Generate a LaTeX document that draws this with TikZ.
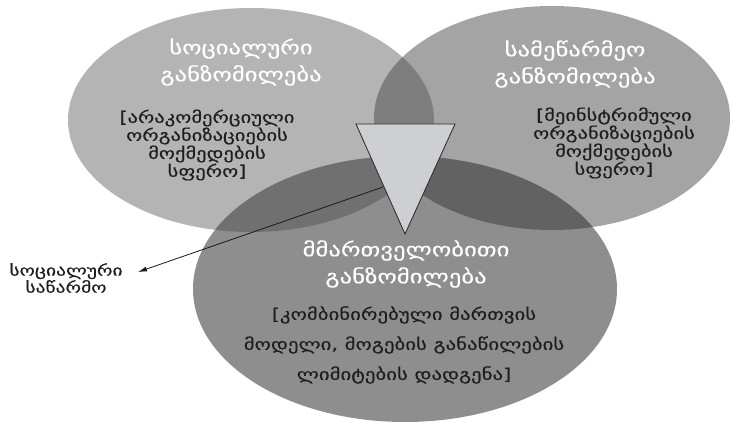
\documentclass[tikz,border=0pt]{standalone}
\usepackage{fontspec}
\usetikzlibrary{arrows.meta}
\newfontfamily\geo{DejaVu Sans}[FakeStretch=1.3,FakeBold=0.5]
\newfontfamily\geot{DejaVu Sans}[FakeStretch=1.3,FakeBold=0.3]
\definecolor{cL}{RGB}{180,180,180}
\definecolor{cR}{RGB}{164,164,164}
\definecolor{cB}{RGB}{142,142,142}
\definecolor{cLR}{RGB}{126,126,126}
\definecolor{cLB}{RGB}{112,112,112}
\definecolor{cRB}{RGB}{98,98,98}
\definecolor{cLRB}{RGB}{85,85,85}
\definecolor{cTri}{RGB}{205,207,210}
\definecolor{cTxt}{RGB}{30,30,30}
\tikzset{
  titletext/.style={text=white, font=\geot\fontsize{19}{27}\selectfont, align=center, inner sep=0pt},
  bodytext/.style={text=cTxt, font=\geo\fontsize{15.8}{18}\selectfont, align=center, inner sep=0pt},
  bigbody/.style={text=cTxt, font=\geo\fontsize{16}{30}\selectfont, align=center, inner sep=0pt},
  labeltext/.style={text=cTxt, font=\geo\fontsize{15}{17}\selectfont, align=center, inner sep=0pt},
  tri/.style={fill=cTri, draw=black!85, line width=0.8pt, line join=miter},
  arr/.style={draw=black!90, line width=0.8pt, -{Latex[length=9pt,width=5pt]}}
}
\begin{document}
\begin{tikzpicture}[x=1pt,y=-1pt]
\useasboundingbox (0,0) rectangle (732,422);
\def\ellL{(251,120) ellipse [x radius=183, y radius=112]}
\def\ellR{(552,118) ellipse [x radius=178, y radius=112]}
\def\ellB{(405,289) ellipse [x radius=212, y radius=133]}
% base ellipses
\fill[cL] \ellL;
\fill[cR] \ellR;
\fill[cB] \ellB;
% overlaps
\begin{scope}
  \clip \ellL;
  \fill[cLR] \ellR;
  \fill[cLB] \ellB;
\end{scope}
\begin{scope}
  \clip \ellR;
  \fill[cRB] \ellB;
\end{scope}
\begin{scope}
  \clip \ellL; \clip \ellR;
  \fill[cLRB] \ellB;
\end{scope}
% triangle
\coordinate (t1) at (356,124);
\coordinate (t2) at (455,124);
\coordinate (t3) at (405,234);
\draw[tri] (t1) -- (t2) -- (t3) -- cycle;
% texts
\node[titletext] (lt) at (241,62) {სოციალური\\განზომილება};
\node[bodytext] (lb) at (207,145) {[არაკომერციული\\ორგანიზაციების\\მოქმედების\\სფერო]};
\node[titletext] (rt) at (575,64) {სამეწარმეო\\განზომილება};
\node[bodytext] (rb) at (614,143) {[მეინსტრიმული\\ორგანიზაციების\\მოქმედების\\სფერო]};
\node[titletext] (bt) at (406,264) {მმართველობითი\\განზომილება};
\node[bigbody] (bb) at (404,345) {[კომბინირებული მართვის\\მოდელი, მოგების განაწილების\\ლიმიტების დადგენა]};
\node[labeltext] (lbl) at (66,278) {სოციალური\\საწარმო};
% arrow
\coordinate (as) at (383,187);
\coordinate (ae) at (138,272);
\draw[arr] (as) -- (ae);
\end{tikzpicture}
\end{document}
